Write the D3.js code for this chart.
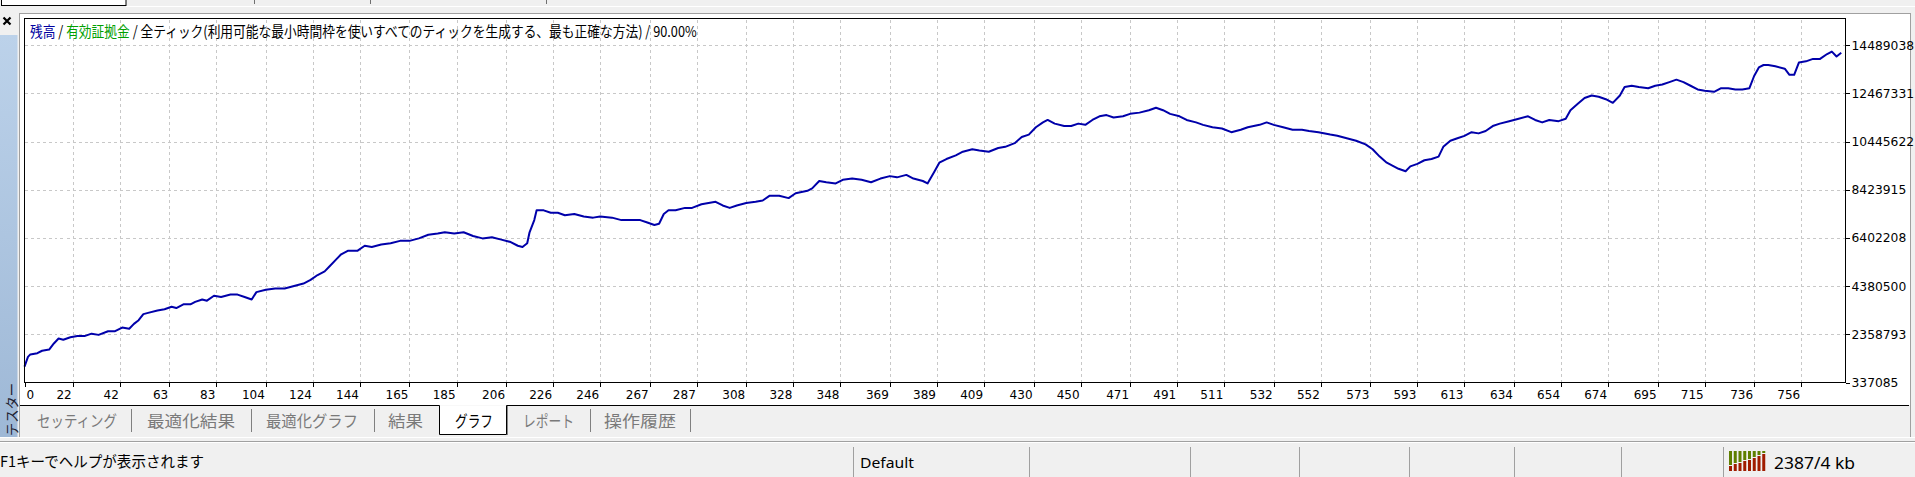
<!DOCTYPE html>
<html><head><meta charset="utf-8">
<script src="https://cdn.jsdelivr.net/npm/d3@7"></script>
<style>
html,body{margin:0;padding:0;background:#f0f0f0;overflow:hidden;}
svg{display:block;}
</style></head><body>
<svg id="c" width="1915" height="477"></svg>
<script>
// ---------- data ----------
const trades = [0,3,4,7,9,12,14,16,18,21,24,27,30,33,37,40,43,46,48,50,52,54,58,61,64,66,69,72,74,77,79,82,85,89,92,95,98,100,104,108,112,116,120,123,126,129,131,134,136,139,143,146,149,153,157,161,165,169,173,177,180,184,188,192,196,200,204,208,211,213,215,216,218,219,222,225,228,231,235,239,243,246,251,255,259,263,266,269,271,273,275,278,282,285,289,292,295,298,301,304,308,312,315,318,322,326,329,334,336,339,342,346,349,353,357,361,365,369,372,376,379,383,385,388,390,393,397,400,404,407,411,415,418,422,425,428,431,434,436,439,443,446,449,452,455,458,461,464,468,471,475,479,482,485,488,492,495,499,502,506,510,514,518,521,526,529,532,536,540,544,547,551,556,559,563,567,571,574,577,580,583,585,588,590,593,596,599,602,604,607,610,613,616,619,622,625,628,632,636,640,643,646,649,653,656,658,661,664,667,670,673,676,679,681,684,687,691,694,697,700,703,706,709,712,715,719,722,725,728,731,734,736,738,740,742,745,749,751,753,755,758,761,764,767,769,771,773];
const balance = [1003000,1413000,1515000,1567000,1669000,1720000,1976000,2181000,2130000,2233000,2284000,2284000,2386000,2335000,2489000,2489000,2643000,2591000,2796000,2950000,3206000,3257000,3360000,3411000,3514000,3462000,3616000,3616000,3718000,3821000,3770000,3975000,3923000,4026000,4026000,3923000,3821000,4128000,4231000,4282000,4282000,4384000,4487000,4641000,4846000,4999000,5204000,5512000,5717000,5870000,5870000,6075000,6024000,6126000,6178000,6280000,6280000,6383000,6536000,6588000,6639000,6588000,6639000,6485000,6383000,6434000,6331000,6229000,6075000,6024000,6178000,6639000,7151000,7561000,7561000,7459000,7459000,7356000,7407000,7305000,7254000,7305000,7254000,7151000,7151000,7151000,7049000,6946000,6997000,7407000,7561000,7561000,7663000,7663000,7817000,7868000,7920000,7766000,7663000,7766000,7868000,7920000,7971000,8176000,8176000,8073000,8278000,8381000,8483000,8791000,8739000,8688000,8842000,8893000,8842000,8739000,8893000,8996000,8944000,9047000,8893000,8791000,8688000,9200000,9559000,9713000,9867000,10020000,10123000,10071000,10020000,10174000,10225000,10379000,10635000,10738000,11045000,11250000,11352000,11199000,11096000,11096000,11199000,11147000,11352000,11506000,11557000,11455000,11506000,11608000,11660000,11762000,11865000,11762000,11608000,11506000,11352000,11250000,11147000,11045000,10994000,10840000,10942000,11045000,11147000,11250000,11147000,11045000,10942000,10942000,10891000,10840000,10738000,10686000,10584000,10481000,10328000,10123000,9815000,9559000,9405000,9303000,9200000,9405000,9508000,9662000,9713000,9815000,10225000,10481000,10584000,10686000,10840000,10789000,10891000,11096000,11199000,11301000,11404000,11506000,11352000,11250000,11352000,11301000,11404000,11762000,12018000,12275000,12377000,12326000,12223000,12070000,12377000,12736000,12787000,12736000,12684000,12787000,12838000,12941000,13043000,12941000,12787000,12633000,12582000,12531000,12684000,12684000,12633000,12633000,12684000,13197000,13555000,13658000,13658000,13607000,13504000,13248000,13248000,13760000,13812000,13914000,13914000,14119000,14221000,14016000,14170000];
const xTickValues = [0,22,42,63,83,104,124,144,165,185,206,226,246,267,287,308,328,348,369,389,409,430,450,471,491,511,532,552,573,593,613,634,654,674,695,715,736,756];
const yTickValues = [337085,2358793,4380500,6402208,8423915,10445622,12467331,14489038];
const titleParts = [
  {text:"残高", color:"#0000a0"},
  {text:" / ", color:"#000000"},
  {text:"有効証拠金", color:"#00a000"},
  {text:" / 全ティック(利用可能な最小時間枠を使いすべてのティックを生成する、最も正確な方法) / 90.00%", color:"#000000"}
];
const tabLabels = ["セッティング","最適化結果","最適化グラフ","結果","グラフ","レポート","操作履歴"];
const selectedTab = "グラフ";
const sideLabel = "テスター";
const statusHelp = "F1キーでヘルプが表示されます";
const statusProfile = "Default";
const statusMemory = "2387/4 kb";

// ---------- layout ----------
const W = 1915, H = 477;
const plot = {l:24.5, t:18.5, r:1845.5, b:382.5};
const xDomain = [1.53, 774.8];
const yDomain = [337085, 15609000];
const tabLayout = [[37,117],[147,235],[266,358],[388,423],[455,493],[523,574],[604,676]];
const tabSeps = [131.5,251.5,374.5,590.5,690.5];
const statusSeps = [853.5,1029.5,1190.5,1299.5,1409.5,1514.5,1621.5,1723.5];

const svg = d3.select("#c");
const JP = "'Noto Sans CJK JP','Noto Sans',sans-serif";

function fitWidth(sel, w){
  sel.attr("textLength", w).attr("lengthAdjust","spacingAndGlyphs");
}

// background
svg.append("rect").attr("width",W).attr("height",H).attr("fill","#f0f0f0");
// top strip
svg.append("rect").attr("x",1.5).attr("y",-2).attr("width",124.5).attr("height",7.5)
  .attr("fill","#fff").attr("stroke","#000").attr("stroke-width",1);
[254.5,370.5,546.5].forEach(x=>svg.append("line").attr("x1",x).attr("x2",x).attr("y1",0).attr("y2",4).attr("stroke","#707070"));
svg.append("line").attr("x1",126).attr("x2",W).attr("y1",6.5).attr("y2",6.5).attr("stroke","#ffffff");

// close "x"
svg.append("path").attr("d","M3.5,17.5L10.5,24.5M10.5,17.5L3.5,24.5").attr("stroke","#000").attr("stroke-width",2.2);

// side blue panel
const defs = svg.append("defs");
const g1 = defs.append("linearGradient").attr("id","sideGrad").attr("x1",0).attr("y1",0).attr("x2",0).attr("y2",1);
g1.append("stop").attr("offset","0%").attr("stop-color","#bcd2ea");
g1.append("stop").attr("offset","100%").attr("stop-color","#9eb8d6");
svg.append("rect").attr("x",0).attr("y",35).attr("width",17.5).attr("height",402).attr("fill","url(#sideGrad)");
svg.append("text").attr("transform","translate(16.5,436) rotate(-90)")
  .attr("font-family",JP).attr("font-size",13.5).attr("fill","#1e2230").text(sideLabel)
  .call(fitWidth,53);

// main panel
svg.append("rect").attr("x",19.5).attr("y",13.5).attr("width",1891).attr("height",424)
  .attr("fill","#f0f0f0").attr("stroke","#a0a0a0");
svg.append("rect").attr("x",20).attr("y",14).attr("width",1890).attr("height",391).attr("fill","#ffffff");

// scales
const x = d3.scaleLinear().domain(xDomain).range([plot.l, plot.r]).clamp(true);
const y = d3.scaleLinear().domain(yDomain).range([plot.b, plot.t]);

// grid
const gridX = svg.append("g").attr("transform",`translate(0,${plot.b})`)
  .call(d3.axisBottom(x).tickValues(xTickValues.slice(1)).tickSize(-(plot.b-plot.t)).tickFormat(""));
gridX.select(".domain").remove();
gridX.selectAll("line").attr("stroke","#c8c8c8").attr("stroke-dasharray","3,3").attr("shape-rendering","crispEdges");
const gridY = svg.append("g").attr("transform",`translate(${plot.l},0)`)
  .call(d3.axisRight(y).tickValues(yTickValues.slice(1)).tickSize(plot.r-plot.l).tickFormat(""));
gridY.select(".domain").remove();
gridY.selectAll("line").attr("stroke","#c8c8c8").attr("stroke-dasharray","3,3").attr("shape-rendering","crispEdges");

// title
const title = svg.append("text").attr("x",30).attr("y",36.5)
  .attr("font-family",JP).attr("font-size",15);
titleParts.forEach(p=>title.append("tspan").attr("fill",p.color).text(p.text));
{
  const w = title.node().getComputedTextLength();
  title.attr("x",0).attr("y",0).attr("transform",`translate(30,36.5) scale(${667/w},1)`);
}

// data line
const pts = trades.map((t,i)=>[t,balance[i]]);
svg.append("path").datum(pts)
  .attr("fill","none").attr("stroke","#0000aa").attr("stroke-width",2).attr("stroke-linejoin","round")
  .attr("d", d3.line().x(d=>x(d[0])).y(d=>y(d[1])));

// plot border
svg.append("rect").attr("x",plot.l).attr("y",plot.t).attr("width",plot.r-plot.l).attr("height",plot.b-plot.t)
  .attr("fill","none").attr("stroke","#000").attr("stroke-width",1);

// x axis
const xAxis = svg.append("g").attr("transform",`translate(0,${plot.b})`)
  .call(d3.axisBottom(x).tickValues(xTickValues).tickSize(4).tickPadding(4).tickFormat(d3.format("d")));
xAxis.select(".domain").remove();
xAxis.selectAll("line").attr("stroke","#000").attr("shape-rendering","crispEdges");
xAxis.selectAll("text").attr("font-family","'DejaVu Sans',sans-serif").attr("font-size",12).attr("fill","#000")
  .attr("text-anchor","end").attr("dx",-1.5);
xAxis.selectAll(".tick").filter(d=>d===0).select("text").attr("text-anchor","start").attr("dx",1.5);

// y axis
const yAxis = svg.append("g").attr("transform",`translate(${plot.r},0)`)
  .call(d3.axisRight(y).tickValues(yTickValues).tickSize(4).tickPadding(2).tickFormat(d3.format("d")));
yAxis.select(".domain").remove();
yAxis.selectAll("line").attr("stroke","#000").attr("shape-rendering","crispEdges");
yAxis.selectAll("text").attr("font-family","'DejaVu Sans',sans-serif").attr("font-size",12.3).attr("fill","#000");

// tab bar
const selX0 = 439.5, selX1 = 506.5;
svg.append("path").attr("d",`M20,405.5H${selX0}V434.5H${selX1}V405.5H1909`)
  .attr("fill","#ffffff").attr("stroke","#000").attr("stroke-width",1);
svg.append("line").attr("x1",selX1+1).attr("x2",selX1+1).attr("y1",406).attr("y2",435).attr("stroke","#888");
tabSeps.forEach(sx=>svg.append("line").attr("x1",sx).attr("x2",sx).attr("y1",409).attr("y2",432).attr("stroke","#808080"));
tabLabels.forEach((lab,i)=>{
  svg.append("text").attr("x",tabLayout[i][0]).attr("y",427)
    .attr("font-family",JP).attr("font-size",16)
    .attr("fill", lab===selectedTab ? "#000" : "#7a7a7a")
    .text(lab).call(fitWidth, tabLayout[i][1]-tabLayout[i][0]);
});

// status bar
svg.append("line").attr("x1",0).attr("x2",W).attr("y1",437.5).attr("y2",437.5).attr("stroke","#ffffff");
svg.append("line").attr("x1",0).attr("x2",W).attr("y1",441.5).attr("y2",441.5).attr("stroke","#a0a0a0");
svg.append("line").attr("x1",0).attr("x2",W).attr("y1",442.5).attr("y2",442.5).attr("stroke","#ffffff");
statusSeps.forEach(sx=>svg.append("line").attr("x1",sx).attr("x2",sx).attr("y1",447).attr("y2",477).attr("stroke","#a0a0a0"));
svg.append("text").attr("x",0).attr("y",467).attr("font-family",JP).attr("font-size",15).attr("fill","#000")
  .text(statusHelp).call(fitWidth,204);
svg.append("text").attr("x",860).attr("y",468).attr("font-family","'Noto Sans',sans-serif").attr("font-size",15).attr("fill","#000")
  .text(statusProfile).call(fitWidth,54);
svg.append("text").attr("x",1774).attr("y",469).attr("font-family","'Noto Sans',sans-serif").attr("font-size",17).attr("fill","#000")
  .text(statusMemory).call(fitWidth,81);
// memory icon bars
const redH = [4,6,7,9,10,12,14,16];
redH.forEach((h,i)=>{
  const bx = 1729 + i*4.75;
  svg.append("rect").attr("x",bx).attr("y",451).attr("width",3).attr("height",19-h-1).attr("fill","#5f7f00");
  svg.append("rect").attr("x",bx).attr("y",470-h).attr("width",3).attr("height",h+1).attr("fill","#a01c00");
});
</script>
</body></html>
